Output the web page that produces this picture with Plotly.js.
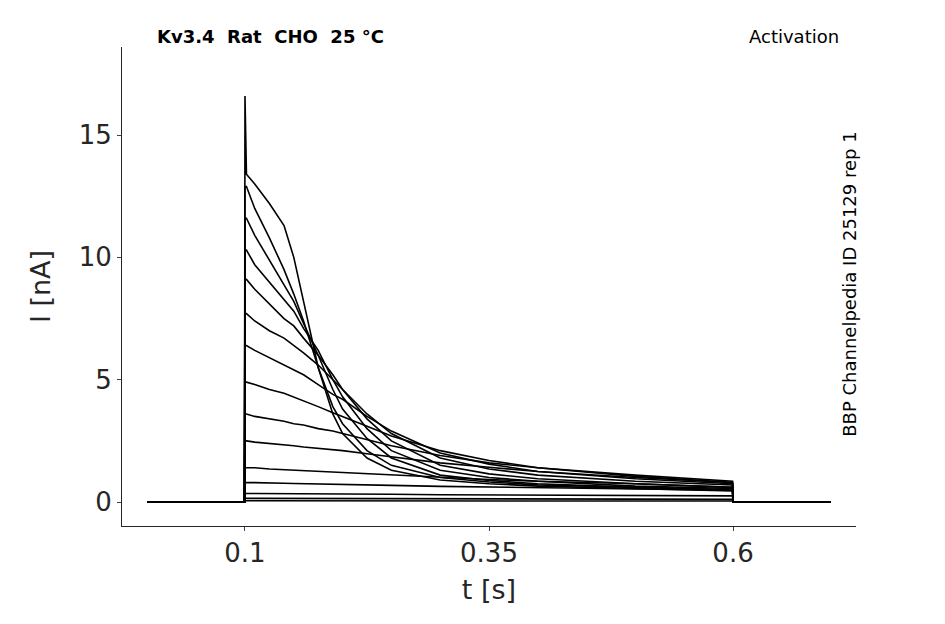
<!DOCTYPE html>
<html><head><meta charset="utf-8">
<script src="https://cdn.plot.ly/plotly-3.0.1.min.js"></script>
<style>body{margin:0}#plot{width:945px;height:624px}</style>
</head><body><div id="plot"></div>
<script>
// sample times (s)
const times = [0, 0.0995, 0.1, 0.1015, 0.11, 0.125, 0.14, 0.15, 0.16, 0.175, 0.19, 0.2, 0.225, 0.25, 0.3, 0.35, 0.4, 0.5, 0.5995, 0.6, 0.7];

// currents (nA), one array per voltage step
const sweeps = [
  [0, 0, 16.6, 13.4, 13.0, 12.2, 11.3, 10.0, 8.2, 5.5, 3.6, 2.8, 1.8, 1.3, 0.9, 0.75, 0.65, 0.55, 0.45, 0, 0],
  [0, 0, 12.9, 12.9, 12.0, 10.8, 9.5, 8.5, 7.4, 5.5, 3.9, 3.2, 2.1, 1.5, 1.0, 0.82, 0.7, 0.6, 0.5, 0, 0],
  [0, 0, 11.6, 11.6, 10.9, 9.9, 8.9, 8.2, 7.3, 6.0, 4.6, 3.8, 2.6, 1.8, 1.1, 0.88, 0.75, 0.6, 0.5, 0, 0],
  [0, 0, 10.3, 10.3, 9.7, 9.0, 8.3, 7.8, 7.1, 6.2, 5.0, 4.3, 3.0, 2.1, 1.3, 1.0, 0.85, 0.65, 0.55, 0, 0],
  [0, 0, 9.1, 9.1, 8.7, 8.1, 7.5, 7.2, 6.7, 6.0, 5.2, 4.6, 3.4, 2.5, 1.5, 1.15, 0.95, 0.75, 0.6, 0, 0],
  [0, 0, 7.7, 7.7, 7.4, 7.0, 6.7, 6.4, 6.1, 5.6, 5.0, 4.6, 3.6, 2.8, 1.8, 1.35, 1.1, 0.85, 0.7, 0, 0],
  [0, 0, 6.4, 6.4, 6.2, 5.9, 5.6, 5.4, 5.2, 4.8, 4.4, 4.2, 3.5, 2.9, 2.0, 1.55, 1.25, 0.95, 0.75, 0, 0],
  [0, 0, 4.9, 4.9, 4.8, 4.6, 4.45, 4.3, 4.15, 3.9, 3.65, 3.5, 3.1, 2.7, 2.1, 1.7, 1.4, 1.05, 0.8, 0, 0],
  [0, 0, 3.6, 3.6, 3.5, 3.4, 3.3, 3.2, 3.15, 3.0, 2.9, 2.8, 2.55, 2.3, 1.9, 1.6, 1.4, 1.1, 0.85, 0, 0],
  [0, 0, 2.5, 2.5, 2.45, 2.4, 2.35, 2.3, 2.25, 2.2, 2.15, 2.1, 1.97, 1.85, 1.6, 1.42, 1.25, 1.0, 0.8, 0, 0],
  [0, 0, 1.4, 1.4, 1.4, 1.35, 1.32, 1.3, 1.28, 1.25, 1.22, 1.2, 1.15, 1.1, 1.0, 0.92, 0.85, 0.75, 0.6, 0, 0],
  [0, 0, 0.8, 0.8, 0.8, 0.78, 0.77, 0.76, 0.75, 0.74, 0.73, 0.72, 0.7, 0.68, 0.64, 0.61, 0.58, 0.52, 0.48, 0, 0],
  [0, 0, 0.35, 0.35, 0.35, 0.35, 0.35, 0.34, 0.34, 0.34, 0.33, 0.33, 0.32, 0.32, 0.3, 0.29, 0.28, 0.26, 0.25, 0, 0],
  [0, 0, 0.15, 0.15, 0.15, 0.15, 0.15, 0.15, 0.14, 0.14, 0.14, 0.14, 0.14, 0.14, 0.13, 0.13, 0.12, 0.12, 0.11, 0, 0],
  [0, 0, 0.05, 0.05, 0.05, 0.05, 0.05, 0.05, 0.05, 0.05, 0.05, 0.05, 0.05, 0.05, 0.05, 0.05, 0.04, 0.04, 0.04, 0, 0]
];

const xTicks = [0.1, 0.35, 0.6];
const yTicks = [0, 5, 10, 15];

const traces = sweeps.map(s => ({
  x: times, y: s, type: 'scatter', mode: 'lines',
  line: { color: 'black', width: 1.6 },
  showlegend: false, hoverinfo: 'skip'
}));

const font = { family: 'DejaVu Sans', color: '#262626' };
const layout = {
  width: 945, height: 624,
  margin: { l: 122, r: 89, t: 47, b: 98 },
  paper_bgcolor: 'white', plot_bgcolor: 'white',
  font: font,
  xaxis: {
    range: [-0.026, 0.726], tickvals: xTicks, ticktext: xTicks.map(String),
    showgrid: false, zeroline: false, showline: true, linecolor: '#262626', linewidth: 1,
    ticks: 'outside', ticklen: 4, tickfont: { size: 26, ...font },
    title: { text: 't [s]', font: { size: 27, ...font }, standoff: 12 }
  },
  yaxis: {
    range: [-0.98, 18.6], tickvals: yTicks, ticktext: yTicks.map(String),
    showgrid: false, zeroline: false, showline: true, linecolor: '#262626', linewidth: 1,
    ticks: 'outside', ticklen: 4, tickfont: { size: 26, ...font },
    title: { text: 'I [nA]', font: { size: 27, ...font }, standoff: 20 }
  },
  annotations: [
    { text: '<b>Kv3.4  Rat  CHO  25 °C</b>', xref: 'paper', yref: 'paper', x: 0.045, y: 0.995,
      xanchor: 'left', yanchor: 'bottom', showarrow: false, font: { size: 18, family: 'DejaVu Sans', color: 'black' } },
    { text: 'Activation', xref: 'paper', yref: 'paper', x: 0.98, y: 0.995,
      xanchor: 'right', yanchor: 'bottom', showarrow: false, font: { size: 18, family: 'DejaVu Sans', color: 'black' } },
    { text: 'BBP Channelpedia ID 25129 rep 1', xref: 'paper', yref: 'paper', x: 0.99, y: 0.505,
      textangle: -90, xanchor: 'center', yanchor: 'middle', showarrow: false,
      font: { size: 18, family: 'DejaVu Sans', color: 'black' } }
  ]
};

Plotly.newPlot('plot', traces, layout, { displayModeBar: false });
</script></body></html>
